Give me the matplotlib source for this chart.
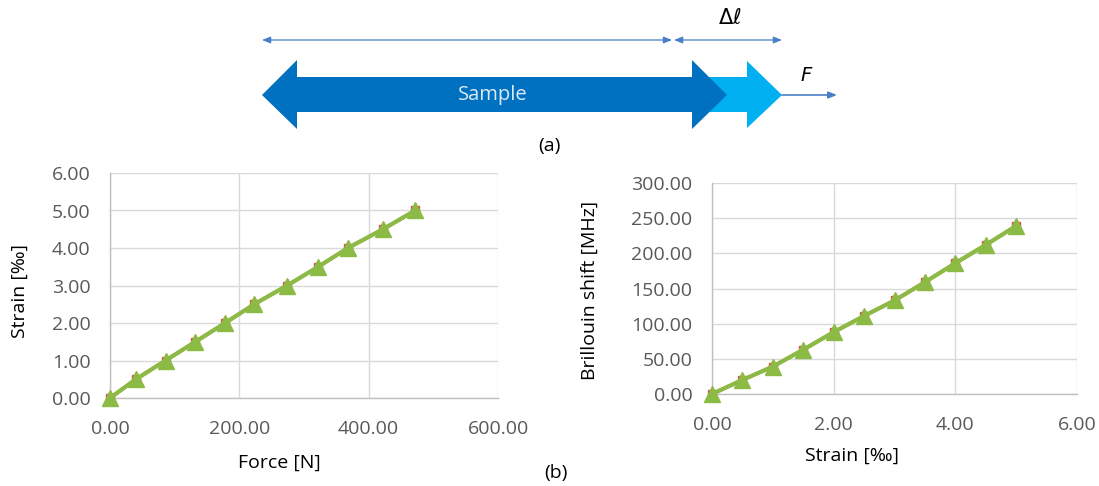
import matplotlib
matplotlib.use("Agg")
import matplotlib.pyplot as plt
from matplotlib.patches import Polygon
from matplotlib.ticker import FormatStrFormatter

plt.rcParams['font.family'] = ['Open Sans', 'DejaVu Sans']

# data
force_n = [0, 40, 86, 132, 178, 223, 274, 322, 368, 422, 472]
strain_a = [0.0, 0.5, 1.0, 1.5, 2.0, 2.5, 3.0, 3.5, 4.0, 4.5, 5.0]
strain_b = [0.0, 0.5, 1.0, 1.5, 2.0, 2.5, 3.0, 3.5, 4.0, 4.5, 5.0]
shift_mhz = [0, 20, 39, 63, 88, 111, 133, 159, 186, 212, 239]
left_xticks = [0, 200, 400, 600]
left_yticks = [0, 1, 2, 3, 4, 5, 6]
right_xticks = [0, 2, 4, 6]
right_yticks = [0, 50, 100, 150, 200, 250, 300]

W, H = 1099, 486
fig = plt.figure(figsize=(W / 100, H / 100), dpi=100)

GREEN = '#8BBA45'
RED = '#E0504A'
TICK = '#595959'
FS = 14

def style(ax):
    ax.grid(True, color='#D9D9D9', linewidth=1.0)
    ax.set_axisbelow(True)
    for s in ['top', 'right']:
        ax.spines[s].set_visible(False)
    for s in ['left', 'bottom']:
        ax.spines[s].set_color('#BFBFBF')
        ax.spines[s].set_linewidth(1.0)
    ax.tick_params(length=0, labelsize=FS, labelcolor=TICK)
    ax.tick_params(axis='x', pad=16)
    ax.tick_params(axis='y', pad=14)
    ax.xaxis.set_major_formatter(FormatStrFormatter('%.2f'))
    ax.yaxis.set_major_formatter(FormatStrFormatter('%.2f'))

def fx(px):
    return px / W

def fy(py):
    return 1 - py / H

def place_labels(ax, xl, yl, xpos, ypos):
    ax.set_xlabel(xl, fontsize=FS)
    ax.set_ylabel(yl, fontsize=FS)
    ax.xaxis.set_label_coords(*xpos)
    ax.yaxis.set_label_coords(*ypos)
    ax.xaxis.label.set_va('center')
    ax.yaxis.label.set_va('center')
    ax.yaxis.label.set_ha('center')

# left chart
ax1 = fig.add_axes([fx(110), fy(398), fx(498) - fx(110), fy(173) - fy(398)])
style(ax1)
ax1.set_xlim(0, 600)
ax1.set_ylim(0, 6)
ax1.set_xticks(left_xticks)
ax1.set_yticks(left_yticks)
ax1.plot(force_n, strain_a, color=RED, lw=2.5, marker='s', ms=6, clip_on=False, zorder=3)
ax1.plot(force_n, strain_a, color=GREEN, lw=3, marker='^', ms=12, clip_on=False, zorder=4)
place_labels(ax1, 'Force [N]', 'Strain [‰]', (0.4356, -0.289), (-0.232, 0.476))

# right chart
ax2 = fig.add_axes([fx(712), fy(394), fx(1077) - fx(712), fy(183) - fy(394)])
style(ax2)
ax2.set_xlim(0, 6)
ax2.set_ylim(0, 300)
ax2.set_xticks(right_xticks)
ax2.set_yticks(right_yticks)
ax2.plot(strain_b, shift_mhz, color=RED, lw=2.5, marker='s', ms=6, clip_on=False, zorder=3)
ax2.plot(strain_b, shift_mhz, color=GREEN, lw=3, marker='^', ms=12, clip_on=False, zorder=4)
place_labels(ax2, 'Strain [‰]', 'Brillouin shift [MHz]', (0.3836, -0.294), (-0.334, 0.493))

# top diagram overlay (pixel coordinates)
ov = fig.add_axes([0, 0, 1, 1], zorder=-1)
ov.set_xlim(0, W)
ov.set_ylim(H, 0)
ov.axis('off')

light = Polygon([(655, 77), (747, 77), (747, 61), (782, 95), (747, 128), (747, 112), (655, 112)],
                closed=True, facecolor='#00B0F0', edgecolor='none', zorder=2)
dark = Polygon([(262, 95), (297, 60), (297, 77), (692, 77), (692, 60), (727, 95),
                (692, 129), (692, 112), (297, 112), (297, 129)],
               closed=True, facecolor='#0070C0', edgecolor='none', zorder=3)
ov.add_patch(light)
ov.add_patch(dark)

ac = '#4A7FC8'
aprops = dict(arrowstyle='<|-|>,head_length=0.5,head_width=0.2', color=ac, lw=0.9,
              shrinkA=0, shrinkB=0)
ov.annotate('', xy=(672, 40), xytext=(262, 40), arrowprops=aprops)
ov.annotate('', xy=(782, 40), xytext=(674, 40), arrowprops=aprops)
ov.annotate('', xy=(837, 95), xytext=(782, 95),
            arrowprops=dict(arrowstyle='-|>,head_length=0.5,head_width=0.2', color=ac, lw=1.2,
                            shrinkA=0, shrinkB=0))

ov.text(493, 95, 'Sample', color='#DDEBF7', fontsize=14.5, ha='center', va='center', zorder=5)
ov.text(730, 19, r'$\Delta \ell$', fontsize=15, ha='center', va='center', color='black')
ov.text(807, 76, r'$F$', fontsize=14, ha='center', va='center', color='black')
ov.text(549, 146, '(a)', fontsize=14, ha='center', va='center', color='black')
ov.text(556, 473, '(b)', fontsize=14, ha='center', va='center', color='black')

fig.savefig('out.png', dpi=100)
